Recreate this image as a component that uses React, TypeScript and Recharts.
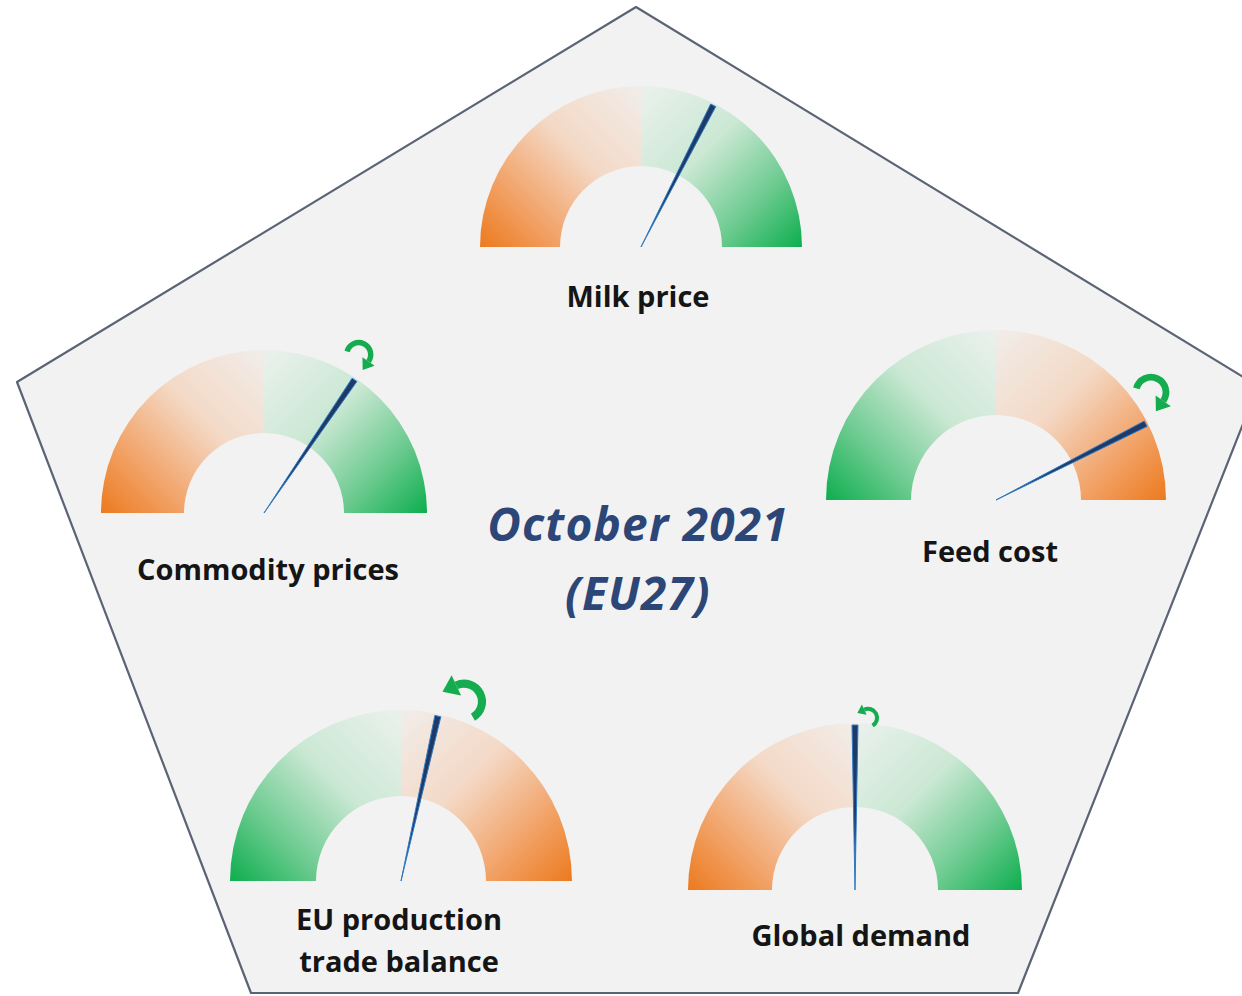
import React from 'react';
import { PieChart, Pie, Cell } from 'recharts';

// dial readings (0 = far left, 100 = far right)
const gaugeNames = ['Milk price', 'Commodity prices', 'Feed cost', 'EU production\ntrade balance', 'Global demand'];
const needleValues = [65, 69, 85, 57, 50];
const leftSide = ['orange', 'orange', 'green', 'green', 'orange'];
const trends = ['none', 'up', 'up', 'down', 'down'];
const trendSizes = [0, 12, 15, 18, 9];
const halves = [50, 50];
const titleLines = ['October 2021', '(EU27)'];

// where each dial sits on the pentagon
const layout = [
    { cx: 641, cy: 247, r: 161, ir: 81, lx: -3, ly: 48 },
    { cx: 264, cy: 513, r: 163, ir: 80, lx: 4, ly: 55 },
    { cx: 996, cy: 500, r: 170, ir: 85, lx: -6, ly: 50 },
    { cx: 401, cy: 881, r: 171, ir: 85, lx: -2, ly: 37 },
    { cx: 855, cy: 890, r: 167, ir: 83, lx: 6, ly: 44 },
];

const NEEDLE_W = 1.15;
const RAD = Math.PI / 180;
const FONT = '"Open Sans", Lato, sans-serif';

const other = (c: string) => (c === 'orange' ? 'green' : 'orange');

const renderTrend = (tx: number, ty: number, r: number, dir: string) => {
    let ax: number, ay: number, a0: number, a1: number, sweep: number;
    if (dir === 'up') {
        ax = tx + 0.35 * r; ay = ty - 2.1 * r; a0 = -165; a1 = 35; sweep = 1;
    } else {
        ax = tx + 1.45 * r; ay = ty - 0.8 * r; a0 = 60; a1 = -115; sweep = 0;
    }
    const pt = (a: number) => [ax + r * Math.cos(a * RAD), ay + r * Math.sin(a * RAD)];
    const [sx, sy] = pt(a0);
    const [ex, ey] = pt(a1);
    const span = Math.abs(a1 - a0);
    const t = sweep ? [-Math.sin(a1 * RAD), Math.cos(a1 * RAD)] : [Math.sin(a1 * RAD), -Math.cos(a1 * RAD)];
    const n = [-t[1], t[0]];
    const hw = 0.62 * r, hl = 0.85 * r;
    const head = [
        [ex + n[0] * hw, ey + n[1] * hw],
        [ex - n[0] * hw, ey - n[1] * hw],
        [ex + t[0] * hl, ey + t[1] * hl],
    ].map(p => p.join(',')).join(' ');
    return (
        <g>
            <path d={`M${sx},${sy} A${r},${r} 0 ${span > 180 ? 1 : 0} ${sweep} ${ex},${ey}`}
                fill="none" stroke="#14AC4E" strokeWidth={0.45 * r} />
            <polygon points={head} fill="#14AC4E" />
        </g>
    );
};

const stops = (strong: string, mid: string, pale: string, white: string) => (
    <>
        <stop offset="0" stopColor={strong} />
        <stop offset="0.28" stopColor={mid} />
        <stop offset="0.6" stopColor={pale} />
        <stop offset="1" stopColor={white} />
    </>
);

export default function App() {
    return (
        <div style={{ position: 'absolute', left: 0, top: 0, width: 1242, height: 996, background: '#fff' }}>
            <svg width={1242} height={996} style={{ position: 'absolute', left: 0, top: 0 }}>
                <defs>
                    <linearGradient id="orangeL" x1="0" y1="1" x2="1" y2="0">
                        {stops('#EC7A1E', '#F2A56C', '#F4D9C6', '#F1EDEA')}
                    </linearGradient>
                    <linearGradient id="orangeR" x1="1" y1="1" x2="0" y2="0">
                        {stops('#EC7A1E', '#F2A56C', '#F4D9C6', '#F1EDEA')}
                    </linearGradient>
                    <linearGradient id="greenL" x1="0" y1="1" x2="1" y2="0">
                        {stops('#0DAE4E', '#6DCB90', '#CBE8D4', '#EBF1ED')}
                    </linearGradient>
                    <linearGradient id="greenR" x1="1" y1="1" x2="0" y2="0">
                        {stops('#0DAE4E', '#6DCB90', '#CBE8D4', '#EBF1ED')}
                    </linearGradient>
                </defs>
                <polygon points="636,7 1258,386 1018,993 251,993 17,382"
                    fill="#F2F2F2" stroke="#5B6475" strokeWidth={2.2} strokeLinejoin="round" />
                {titleLines.map((t, i) => (
                    <text key={t} x={638} y={523 + i * 69} textAnchor="middle" dominantBaseline="central"
                        fontFamily={FONT} fontSize={46} fontWeight={700} fontStyle="italic" fill="#2B4677"
                        letterSpacing={1.2}>
                        {t}
                    </text>
                ))}
            </svg>
            <div style={{ position: 'absolute', left: 0, top: 0 }}>
                <PieChart width={1242} height={996} margin={{ top: 0, right: 0, bottom: 0, left: 0 }}>
                    {gaugeNames.map((name, g) => {
                        const L = layout[g];
                        const ring = halves.map((v, i) => ({ name: i ? 'right' : 'left', value: v }));
                        return (
                            <Pie key={`ring-${g}`} data={ring} dataKey="value" cx={L.cx} cy={L.cy}
                                innerRadius={L.ir} outerRadius={L.r} startAngle={180} endAngle={0}
                                isAnimationActive={false} labelLine={false}
                                label={(p: any) => p.index !== 0 ? null : (
                                    <text x={p.cx + L.lx} y={p.cy + L.ly} textAnchor="middle"
                                        fontFamily={FONT} fontSize={29} fontWeight={700} fill="#151515">
                                        {name.split('\n').map((line, k) => (
                                            <tspan key={k} x={p.cx + L.lx} dy={k ? 42 : 0} dominantBaseline="central">{line}</tspan>
                                        ))}
                                    </text>
                                )}>
                                <Cell fill={`url(#${leftSide[g]}L)`} stroke="none" />
                                <Cell fill={`url(#${other(leftSide[g])}R)`} stroke="none" />
                            </Pie>
                        );
                    })}
                    {needleValues.map((v, g) => {
                        const L = layout[g];
                        const needle = [
                            { name: 'before', value: v - NEEDLE_W / 2 },
                            { name: 'needle', value: NEEDLE_W },
                            { name: 'after', value: 100 - v - NEEDLE_W / 2 },
                        ];
                        return (
                            <Pie key={`needle-${g}`} data={needle} dataKey="value" cx={L.cx} cy={L.cy}
                                innerRadius={0} outerRadius={L.r - 2} startAngle={180} endAngle={0}
                                isAnimationActive={false} labelLine={false}
                                label={(p: any) => {
                                    if (p.index !== 1 || trends[g] === 'none') return null;
                                    const tx = p.cx + p.outerRadius * Math.cos(-p.midAngle * RAD);
                                    const ty = p.cy + p.outerRadius * Math.sin(-p.midAngle * RAD);
                                    return renderTrend(tx, ty, trendSizes[g], trends[g]);
                                }}>
                                <Cell fill="none" stroke="none" />
                                <Cell fill="#1F3A68" stroke="#2F7BC4" strokeWidth={1} />
                                <Cell fill="none" stroke="none" />
                            </Pie>
                        );
                    })}
                </PieChart>
            </div>
        </div>
    );
}
